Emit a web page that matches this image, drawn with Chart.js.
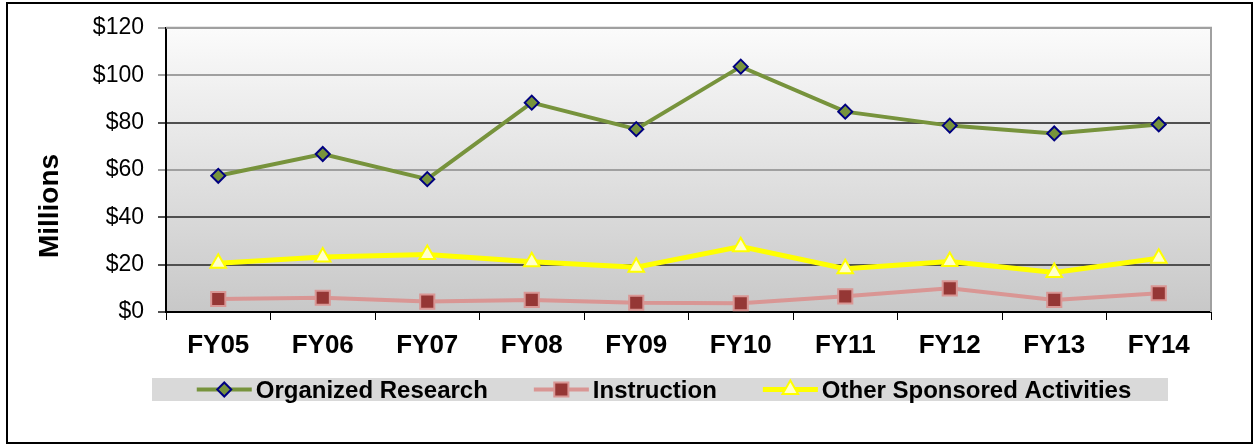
<!DOCTYPE html>
<html>
<head>
<meta charset="utf-8">
<title>Sponsored Activities FY05-FY14</title>
<script src="https://cdn.jsdelivr.net/npm/chart.js@4/dist/chart.umd.min.js"></script>
<style>
  html, body { margin: 0; padding: 0; background: #fff; }
  #wrap { width: 1255px; height: 445px; }
</style>
</head>
<body>
<div id="wrap"><canvas id="chart" width="1255" height="445"></canvas></div>
<script>
// Данные
const categories = ['FY05', 'FY06', 'FY07', 'FY08', 'FY09', 'FY10', 'FY11', 'FY12', 'FY13', 'FY14'];
const organizedResearch = [57.5, 66.7, 56.1, 88.4, 77.2, 103.6, 84.6, 78.7, 75.4, 79.2];
const instruction = [5.5, 6.0, 4.4, 5.1, 3.9, 3.7, 6.6, 10.0, 5.1, 7.9];
const otherSponsored = [20.6, 23.2, 24.3, 21.2, 18.9, 27.6, 18.3, 21.3, 16.7, 22.7];
const yTicks = [0, 20, 40, 60, 80, 100, 120];

const FONT = "'Liberation Sans', Arial, sans-serif";

// Маркер для легенды
function drawMarker(ctx, style, x, y, r, fill, stroke, lw) {
  ctx.save();
  ctx.beginPath();
  if (style === 'rectRot') {
    ctx.moveTo(x - r, y); ctx.lineTo(x, y - r); ctx.lineTo(x + r, y); ctx.lineTo(x, y + r);
  } else if (style === 'rect') {
    const s = Math.SQRT1_2 * r;
    ctx.rect(x - s, y - s, 2 * s, 2 * s);
  } else {
    const h = r * Math.sqrt(3) / 2;
    ctx.moveTo(x, y - r); ctx.lineTo(x + h, y + r / 2); ctx.lineTo(x - h, y + r / 2);
  }
  ctx.closePath();
  ctx.fillStyle = fill;
  ctx.fill();
  ctx.lineWidth = lw;
  ctx.strokeStyle = stroke;
  ctx.stroke();
  ctx.restore();
}

const decorPlugin = {
  id: 'decor',
  beforeDraw(chart) {
    const { ctx, chartArea: a } = chart;
    ctx.save();
    ctx.fillStyle = '#fff';
    ctx.fillRect(0, 0, chart.width, chart.height);
    // Фон области графика
    const g = ctx.createLinearGradient(0, a.top, 0, a.bottom);
    g.addColorStop(0, '#fbfbfb');
    g.addColorStop(1, '#c8c8c8');
    ctx.fillStyle = g;
    ctx.fillRect(a.left, a.top, a.right - a.left, a.bottom - a.top);
    ctx.restore();
  },
  afterDraw(chart) {
    const { ctx, chartArea: a } = chart;
    ctx.save();
    // Серая рамка сверху и справа
    ctx.strokeStyle = '#a0a0a0';
    ctx.lineWidth = 2;
    ctx.beginPath();
    ctx.moveTo(a.left, a.top);
    ctx.lineTo(a.right, a.top);
    ctx.lineTo(a.right, a.bottom);
    ctx.stroke();

    // Подпись оси Y
    ctx.fillStyle = '#000';
    ctx.font = 'bold 28px ' + FONT;
    ctx.textAlign = 'center';
    ctx.textBaseline = 'middle';
    ctx.translate(50, 206);
    ctx.rotate(-Math.PI / 2);
    ctx.fillText('Millions', 0, 0);
    ctx.setTransform(1, 0, 0, 1, 0, 0);

    // Легенда
    const box = { left: 152, top: 378, right: 1168, bottom: 401 };
    ctx.fillStyle = '#d9d9d9';
    ctx.fillRect(box.left, box.top, box.right - box.left, box.bottom - box.top);
    ctx.font = 'bold 24px ' + FONT;
    const sample = 55, gap = 4, spacing = 46;
    const items = chart.data.datasets.map(ds => ({ ds, w: ctx.measureText(ds.label).width }));
    const total = items.reduce((s, it) => s + sample + gap + it.w, 0) + spacing * (items.length - 1);
    let x = (box.left + box.right) / 2 + 4 - total / 2;
    const cy = (box.top + box.bottom) / 2;
    items.forEach(({ ds, w }) => {
      ctx.strokeStyle = ds.borderColor;
      ctx.lineWidth = ds.borderWidth;
      ctx.beginPath();
      ctx.moveTo(x, cy);
      ctx.lineTo(x + sample, cy);
      ctx.stroke();
      drawMarker(ctx, ds.pointStyle, x + sample / 2, cy, ds.pointRadius,
        ds.pointBackgroundColor, ds.pointBorderColor, ds.pointBorderWidth);
      ctx.fillStyle = '#000';
      ctx.textAlign = 'left';
      ctx.textBaseline = 'middle';
      ctx.fillText(ds.label, x + sample + gap, cy + 2);
      x += sample + gap + w + spacing;
    });

    // Внешняя рамка
    ctx.strokeStyle = '#000';
    ctx.lineWidth = 2;
    ctx.strokeRect(7, 3, 1245, 440);
    ctx.restore();
  }
};

const gridColor = ctx => {
  const v = ctx.tick && ctx.tick.value;
  return (v === 120 || v === 100 || v === 60) ? '#a0a0a0' : '#505050';
};

new Chart(document.getElementById('chart'), {
  type: 'line',
  data: {
    labels: categories,
    datasets: [
      {
        label: 'Organized Research',
        data: organizedResearch,
        borderColor: '#77933c',
        borderWidth: 4,
        pointStyle: 'rectRot',
        pointRadius: 7,
        pointBackgroundColor: '#77933c',
        pointBorderColor: '#000080',
        pointBorderWidth: 2
      },
      {
        label: 'Instruction',
        data: instruction,
        borderColor: '#d99694',
        borderWidth: 4,
        pointStyle: 'rect',
        pointRadius: 10,
        pointBackgroundColor: '#953735',
        pointBorderColor: '#d99694',
        pointBorderWidth: 2
      },
      {
        label: 'Other Sponsored Activities',
        data: otherSponsored,
        borderColor: '#ffff00',
        borderWidth: 5,
        pointStyle: 'triangle',
        pointRadius: 9,
        pointBackgroundColor: '#ffffcc',
        pointBorderColor: '#ffff00',
        pointBorderWidth: 2
      }
    ]
  },
  options: {
    responsive: false,
    animation: false,
    events: [],
    layout: { padding: { left: 0, right: 44, top: 27, bottom: 0 } },
    plugins: { legend: { display: false }, tooltip: { enabled: false } },
    scales: {
      x: {
        offset: true,
        afterFit: s => { s.height = 133; },
        grid: { offset: true, drawOnChartArea: false, tickLength: 8, color: '#000' },
        border: { color: '#000', width: 2 },
        ticks: { color: '#000', padding: 10, font: { family: FONT, size: 26, weight: 'bold' } }
      },
      y: {
        min: 0,
        max: 120,
        afterFit: s => { s.width = 166; },
        afterBuildTicks: s => { s.ticks = yTicks.map(v => ({ value: v })); },
        grid: { color: gridColor, lineWidth: 2, tickLength: 8 },
        border: { color: '#000', width: 2 },
        ticks: {
          color: '#000',
          padding: 14,
          font: { family: FONT, size: 23 },
          callback: v => '$' + v
        }
      }
    }
  },
  plugins: [decorPlugin]
});
</script>
</body>
</html>
